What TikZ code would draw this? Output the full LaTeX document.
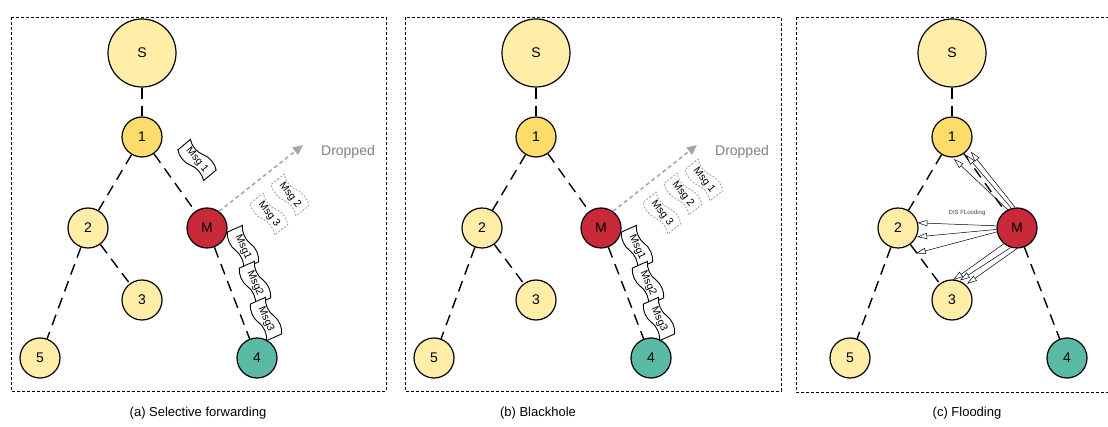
\documentclass[tikz,border=0pt]{standalone}
\usepackage{fontspec}
\setmainfont{Liberation Sans}
\usetikzlibrary{shapes.symbols,arrows.meta,calc}

\definecolor{paleyellow}{HTML}{FFEDA8}
\definecolor{goldnode}{HTML}{FDDC6C}
\definecolor{malred}{HTML}{C92A39}
\definecolor{sinkteal}{HTML}{5BBAA6}
\definecolor{dropgray}{HTML}{A6A6A6}
\definecolor{labelgray}{HTML}{808080}

\tikzset{
  vertex/.style={circle, draw, line width=1.2pt, minimum size=40pt, inner sep=0pt,
                 fill=paleyellow, font=\fontsize{14}{14}\selectfont},
  rootnode/.style={vertex, minimum size=68pt},
  link/.style={line width=1.4pt, dash pattern=on 11pt off 7pt},
  panelbox/.style={line width=0.8pt, dash pattern=on 3pt off 2pt},
  msg/.style={tape, draw, line width=0.9pt, fill=white, minimum width=40pt,
              minimum height=18pt, inner sep=1pt, tape bend height=5pt,
              font=\fontsize{10.5}{10.5}\selectfont},
  lostmsg/.style={msg, draw=dropgray, dash pattern=on 2pt off 1.5pt},
  droparrow/.style={dropgray, line width=1.5pt, dash pattern=on 4pt off 3pt,
                    -{Triangle[length=10pt, width=9pt]}},
  flood/.style={line width=0.5pt, -{Triangle[fill=white, length=10pt, width=6pt]}},
  caption/.style={font=\fontsize{13}{13}\selectfont},
}

% the routing tree shared by the three panels
\newcommand\routingtree{%
  \node[rootnode] (S) at (142,53) {S};
  \node[vertex, fill=goldnode] (1) at (142,137) {1};
  \node[vertex] (2) at (88,228) {2};
  \node[vertex, fill=malred] (M) at (207,228) {M};
  \node[vertex] (3) at (142,300) {3};
  \node[vertex] (5) at (40,358) {5};
  \node[vertex, fill=sinkteal] (4) at (257,358) {4};
  \draw[link] (S) -- (1);
  \draw[link] (1) -- (2);
  \draw[link] (1) -- (M);
  \draw[link] (2) -- (5);
  \draw[link] (2) -- (3);
  \draw[link] (M) -- (4);
}

\begin{document}
\begin{tikzpicture}[x=1pt, y=-1pt]
\useasboundingbox (0,0) rectangle (1108,427);

% ---------------- (a) selective forwarding ----------------
\begin{scope}[name prefix=a-]
  \draw[panelbox] (11,17) rectangle (386,391);
  \routingtree
  \node[msg, rotate=-50] (m1) at (197,160) {Msg 1};
  \node[lostmsg, rotate=-52] (l2) at (290,195) {Msg 2};
  \node[lostmsg, rotate=-52] (l3) at (269,214) {Msg 3};
  \node[msg, rotate=-66] (f1) at (243,247) {Msg1};
  \node[msg, rotate=-66] (f2) at (255,283) {Msg2};
  \node[msg, rotate=-66] (f3) at (266,319) {Msg3};
  \node[labelgray, font=\fontsize{14}{14}\selectfont] (drop) at (348,152) {Dropped};
  \coordinate (tip) at (303,145);
  \draw[droparrow] (M.54) -- (tip);
  \node[caption] (cap) at (198,413) {(a) Selective forwarding};
\end{scope}

% ---------------- (b) blackhole ----------------
\begin{scope}[shift={(394,0)}, name prefix=b-]
  \draw[panelbox] (11,17) rectangle (387,391);
  \routingtree
  \node[lostmsg, rotate=-52] (l1) at (310,180) {Msg 1};
  \node[lostmsg, rotate=-52] (l2) at (289,194) {Msg 2};
  \node[lostmsg, rotate=-52] (l3) at (268,213) {Msg 3};
  \node[msg, rotate=-66] (f1) at (243,247) {Msg1};
  \node[msg, rotate=-66] (f2) at (254,283) {Msg2};
  \node[msg, rotate=-66] (f3) at (265,319) {Msg3};
  \node[labelgray, font=\fontsize{14}{14}\selectfont] (drop) at (348,152) {Dropped};
  \coordinate (tip) at (303,145);
  \draw[droparrow] (M.54) -- (tip);
  \node[caption] (cap) at (144,413) {(b) Blackhole};
\end{scope}

% ---------------- (c) flooding ----------------
\begin{scope}[shift={(810,0)}, name prefix=c-]
  \draw[panelbox] (-14,17) rectangle (310,392);
  \routingtree
  % DIS messages flooded by the malicious node
  \draw[flood] (M.117) -- ($(1)+(-85:22pt)$);
  \draw[flood] (M.106) -- ($(1)+(-52:23pt)$);
  \draw[flood] (M.95)  -- ($(1)+(-38:24pt)$);
  \draw[flood] (M.174) -- ($(2)+(15:20pt)$);
  \draw[flood] (M.184) -- ($(2)+(-25:21pt)$);
  \draw[flood] (M.191) -- ($(2)+(-55:31pt)$);
  \draw[flood] (M.230) -- ($(3)+(87:20pt)$);
  \draw[flood] (M.252) -- ($(3)+(68:21pt)$);
  \draw[flood] (M.270) -- ($(3)+(47:22pt)$);
  \node[text=black!75, font=\fontsize{6}{6}\selectfont] (dis) at (157,213) {DIS FLooding};
  \node[caption] (cap) at (157,413) {(c) Flooding};
\end{scope}
\end{tikzpicture}
\end{document}
